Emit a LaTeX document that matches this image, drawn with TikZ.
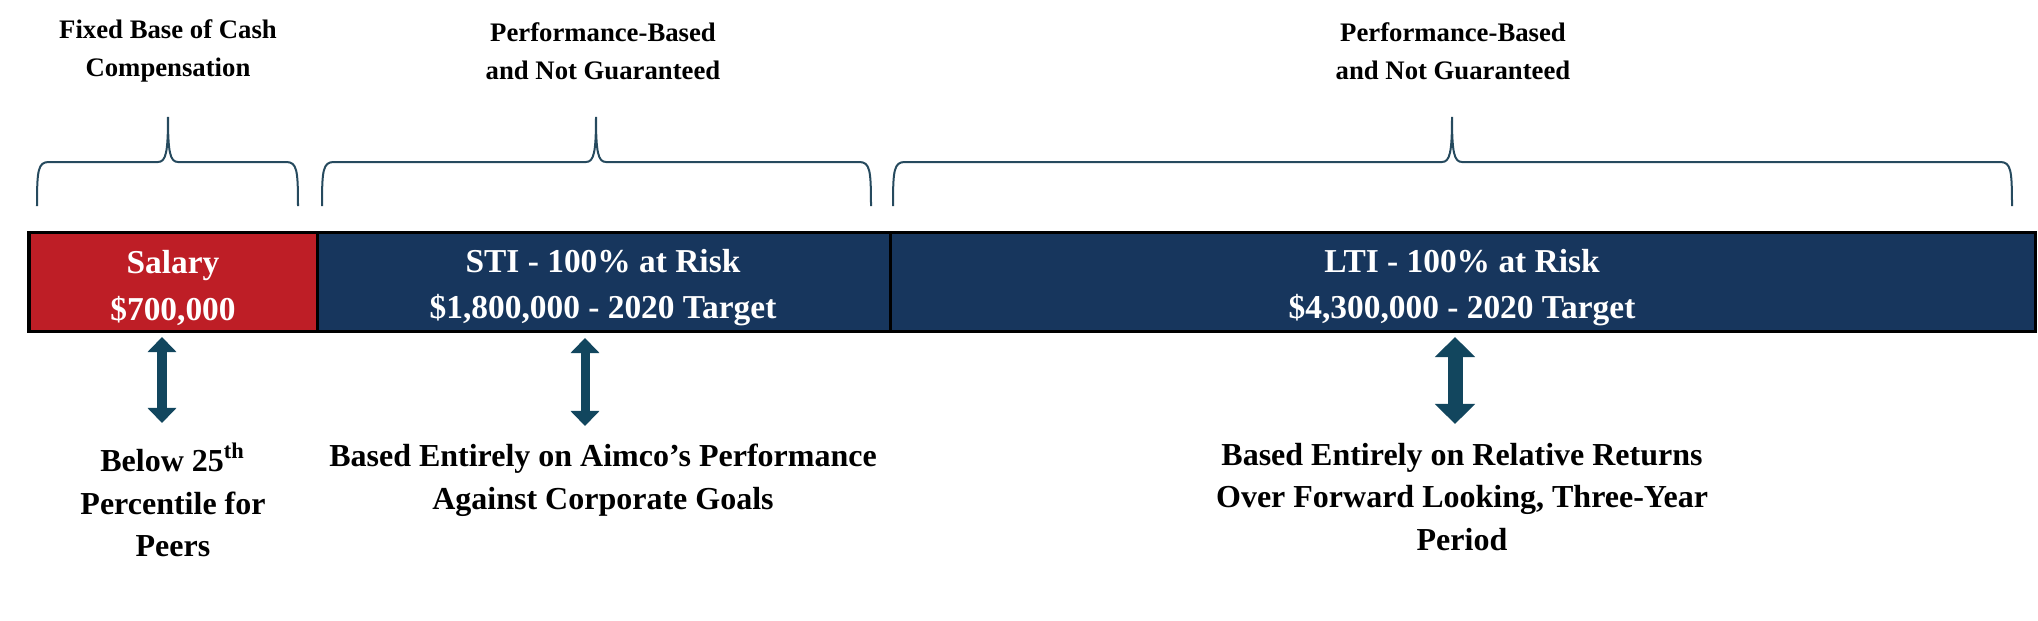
\documentclass[tikz,border=0pt]{standalone}
\usepackage{fontspec}
\setmainfont{Liberation Serif}
\usetikzlibrary{arrows.meta}
\definecolor{salaryred}{RGB}{190,30,38}
\definecolor{risknavy}{RGB}{23,54,93}
\definecolor{bracegray}{RGB}{38,74,94}
\definecolor{arrowteal}{RGB}{18,70,94}

\begin{document}
\begin{tikzpicture}[x=0.01cm,y=-0.01cm,
    heading/.style={align=center,font=\fontsize{7.6}{10.9}\selectfont\bfseries},
    bartext/.style={align=center,text=white,font=\fontsize{9.5}{13.1}\selectfont\bfseries},
    note/.style={align=center,font=\fontsize{9.1}{12.1}\selectfont\bfseries},
    brace/.style={bracegray,line width=0.02cm},
    updown/.style={arrowteal,line width=0.09cm,
      {Triangle[width=0.28cm,length=0.15cm]}-{Triangle[width=0.28cm,length=0.15cm]}},
    bigupdown/.style={arrowteal,line width=0.15cm,
      {Triangle[width=0.39cm,length=0.2cm]}-{Triangle[width=0.39cm,length=0.2cm]}}
  ]
  \useasboundingbox (0,0) rectangle (2038,621);

  % headings
  \node[heading] (fixed) at (168,51) {Fixed Base of Cash\\Compensation};
  \node[heading] (stiperf) at (603,51) {Performance-Based\\and Not Guaranteed};
  \node[heading] (ltiperf) at (1453,51) {Performance-Based\\and Not Guaranteed};

  % braces
  \foreach \l/\m/\r in {37/168/298, 322/596/871, 893/1452/2012}
    \draw[brace] (\l,206) .. controls (\l,170) and (\l+1,162) .. (\l+12,162)
      -- (\m-10,162) .. controls (\m-2,162) and (\m,152) .. (\m,117)
      .. controls (\m,152) and (\m+2,162) .. (\m+10,162)
      -- (\r-12,162) .. controls (\r-1,162) and (\r,170) .. (\r,206);

  % bar
  \filldraw[fill=salaryred,line width=0.03cm] (29,232) rectangle (317,331);% salary
  \filldraw[fill=risknavy,line width=0.03cm] (317,232) rectangle (890,331);% sti
  \filldraw[fill=risknavy,line width=0.03cm] (890,232) rectangle (2035,331);% lti
  \node[bartext] (salary) at (173,288) {Salary\\\$700,000};
  \node[bartext] (sti) at (603,288) {STI - 100\% at Risk\\\$1,800,000 - 2020 Target};
  \node[bartext] (lti) at (1462,288) {LTI - 100\% at Risk\\\$4,300,000 - 2020 Target};

  % arrows
  \coordinate (salary-up) at (162,337);
  \coordinate (salary-down) at (162,423);
  \coordinate (sti-up) at (585,338);
  \coordinate (sti-down) at (585,426);
  \coordinate (lti-up) at (1455,337);
  \coordinate (lti-down) at (1455,424);
  \draw[updown] (salary-up) -- (salary-down);
  \draw[updown] (sti-up) -- (sti-down);
  \draw[bigupdown] (lti-up) -- (lti-down);

  % notes
  \node[note] (peers) at (173,500) {Below 25\textsuperscript{th}\\Percentile for\\Peers};
  \node[note] (goals) at (603,480) {Based Entirely on Aimco’s Performance\\Against Corporate Goals};
  \node[note] (returns) at (1462,497) {Based Entirely on Relative Returns\\Over Forward Looking, Three-Year\\Period};
\end{tikzpicture}
\end{document}
